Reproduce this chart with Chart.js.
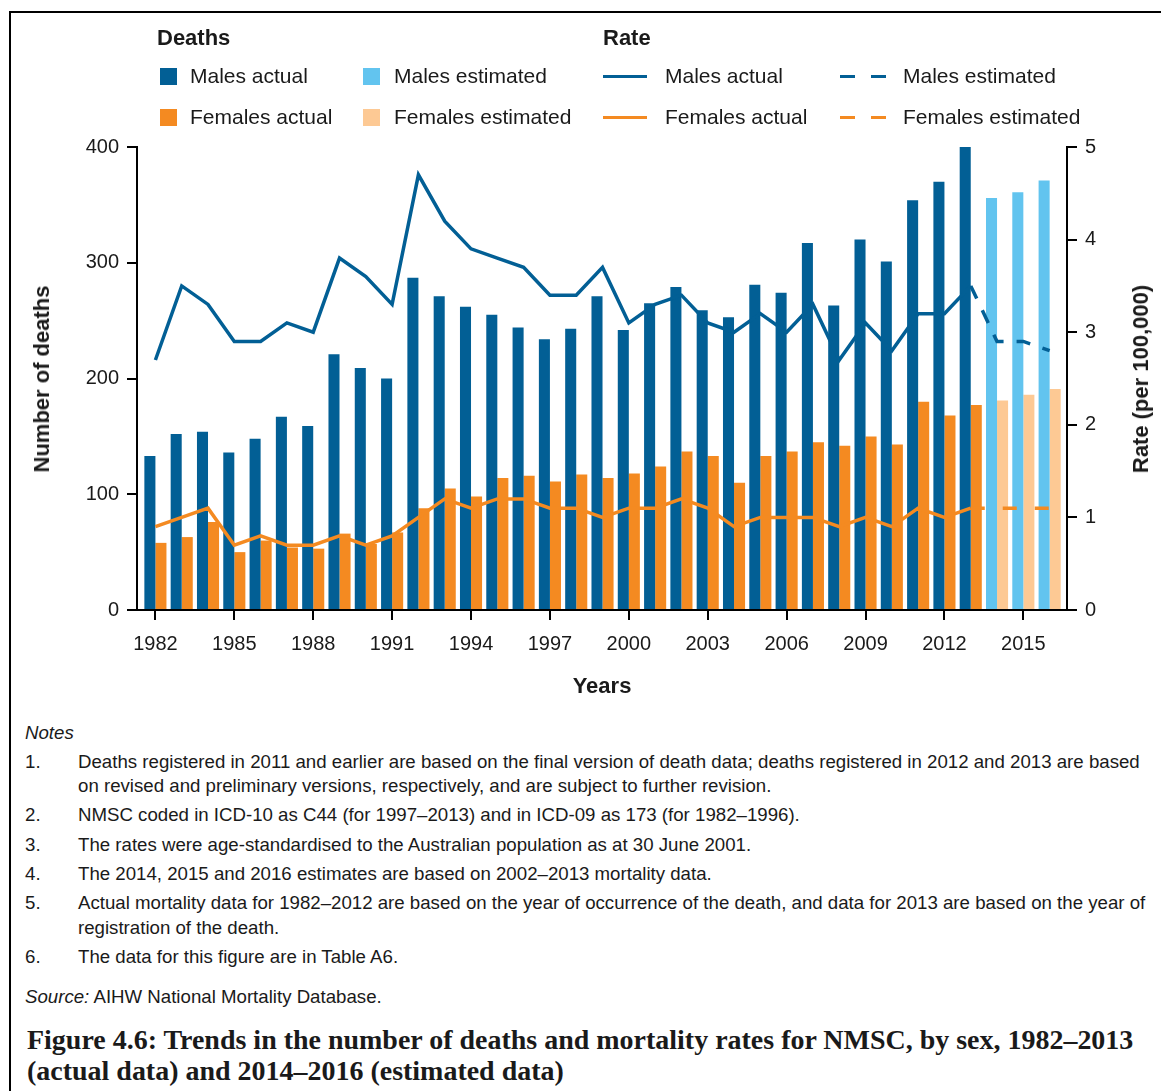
<!DOCTYPE html>
<html>
<head>
<meta charset="utf-8">
<script src="https://cdn.jsdelivr.net/npm/chart.js@4.4.1/dist/chart.umd.min.js"></script>
<style>
  body { margin: 0; width: 1161px; height: 1091px; position: relative; background: #fff; overflow: hidden;
         font-family: "Liberation Sans", Arial, sans-serif; color: #1a1a1a; }
  #frame { position: absolute; left: 9px; top: 11px; width: 1300px; height: 1200px;
           border-left: 2px solid #000; border-top: 2px solid #000; }
  #c { position: absolute; left: 0; top: 0; }
  .t { position: absolute; white-space: nowrap; line-height: 24px; }
  .head { font-weight: bold; font-size: 22px; }
  .lab { font-size: 21px; }
  .sq { position: absolute; width: 17px; height: 17px; }
  .ln { position: absolute; height: 3px; }
  .axt { position: absolute; font-weight: bold; font-size: 22px; white-space: nowrap; transform: translate(-50%, -50%) rotate(-90deg); }
  .note { position: absolute; font-size: 17px; white-space: nowrap; line-height: 20px; }
  .cap { position: absolute; left: 27px; font-family: "Liberation Serif", serif; font-weight: bold; white-space: nowrap; }
</style>
</head>
<body>
<div id="frame"></div>
<canvas id="c" width="1161" height="700"></canvas>

<!-- legend -->
<div class="t head" style="left:157px;top:26px">Deaths</div>
<div class="sq" style="left:160px;top:68px;background:#025F95"></div>
<div class="t lab" style="left:190px;top:64px">Males actual</div>
<div class="sq" style="left:363px;top:68px;background:#62C4EF"></div>
<div class="t lab" style="left:394px;top:64px">Males estimated</div>
<div class="sq" style="left:160px;top:109px;background:#F48A21"></div>
<div class="t lab" style="left:190px;top:105px">Females actual</div>
<div class="sq" style="left:363px;top:109px;background:#FDC994"></div>
<div class="t lab" style="left:394px;top:105px">Females estimated</div>

<div class="t head" style="left:603px;top:26px">Rate</div>
<div class="ln" style="left:603px;top:75px;width:44px;background:#025F95"></div>
<div class="t lab" style="left:665px;top:64px">Males actual</div>
<div class="ln" style="left:840px;top:75px;width:15px;background:#025F95"></div>
<div class="ln" style="left:871px;top:75px;width:15px;background:#025F95"></div>
<div class="t lab" style="left:903px;top:64px">Males estimated</div>
<div class="ln" style="left:603px;top:116px;width:44px;background:#F48A21"></div>
<div class="t lab" style="left:665px;top:105px">Females actual</div>
<div class="ln" style="left:840px;top:116px;width:15px;background:#F48A21"></div>
<div class="ln" style="left:871px;top:116px;width:15px;background:#F48A21"></div>
<div class="t lab" style="left:903px;top:105px">Females estimated</div>

<!-- axis titles -->
<div class="axt" style="left:42px;top:379px">Number of deaths</div>
<div class="axt" style="left:1141px;top:379px">Rate (per 100,000)</div>
<div class="t head" style="left:602px;top:674px;transform:translateX(-50%)">Years</div>

<!-- notes -->
<div class="note" style="left:25px;top:723px;font-style:italic">Notes</div>
<div class="note" style="left:25px;top:752px">1.</div>
<div class="note nt" id="n1" style="left:78px;top:752px">Deaths registered in 2011 and earlier are based on the final version of death data; deaths registered in 2012 and 2013 are based</div>
<div class="note nt" style="left:78px;top:776px">on revised and preliminary versions, respectively, and are subject to further revision.</div>
<div class="note" style="left:25px;top:805px">2.</div>
<div class="note nt" style="left:78px;top:805px">NMSC coded in ICD-10 as C44 (for 1997–2013) and in ICD-09 as 173 (for 1982–1996).</div>
<div class="note" style="left:25px;top:835px">3.</div>
<div class="note nt" style="left:78px;top:835px">The rates were age-standardised to the Australian population as at 30 June 2001.</div>
<div class="note" style="left:25px;top:864px">4.</div>
<div class="note nt" style="left:78px;top:864px">The 2014, 2015 and 2016 estimates are based on 2002–2013 mortality data.</div>
<div class="note" style="left:25px;top:893px">5.</div>
<div class="note nt" style="left:78px;top:893px">Actual mortality data for 1982–2012 are based on the year of occurrence of the death, and data for 2013 are based on the year of</div>
<div class="note nt" style="left:78px;top:918px">registration of the death.</div>
<div class="note" style="left:25px;top:947px">6.</div>
<div class="note nt" style="left:78px;top:947px">The data for this figure are in Table A6.</div>
<div class="note nt" style="left:25px;top:987px"><i>Source:</i> AIHW National Mortality Database.</div>

<div class="cap" id="cap1" style="top:1024px">Figure 4.6: Trends in the number of deaths and mortality rates for NMSC, by sex, 1982–2013</div>
<div class="cap" id="cap2" style="top:1055px">(actual data) and 2014–2016 (estimated data)</div>

<script>
// years shown on the x axis
const years = [1982, 1983, 1984, 1985, 1986, 1987, 1988, 1989, 1990, 1991, 1992, 1993, 1994, 1995, 1996, 1997, 1998,
  1999, 2000, 2001, 2002, 2003, 2004, 2005, 2006, 2007, 2008, 2009, 2010, 2011, 2012, 2013, 2014, 2015, 2016];
const actualYears = years.slice(0, 32);   // 1982-2013
const estYears = [2014, 2015, 2016];
const tickYears = [1982, 1985, 1988, 1991, 1994, 1997, 2000, 2003, 2006, 2009, 2012, 2015];

// number of deaths
const malesActual = [133, 152, 154, 136, 148, 167, 159, 221, 209, 200, 287, 271, 262, 255, 244, 234, 243,
  271, 242, 265, 279, 259, 253, 281, 274, 317, 263, 320, 301, 354, 370, 400];
const femalesActual = [58, 63, 76, 50, 60, 54, 53, 66, 57, 67, 88, 105, 98, 114, 116, 111, 117,
  114, 118, 124, 137, 133, 110, 133, 137, 145, 142, 150, 143, 180, 168, 177];
const malesEstimated = [356, 361, 371];
const femalesEstimated = [181, 186, 191];

// rate per 100,000
const malesRate = [2.7, 3.5, 3.3, 2.9, 2.9, 3.1, 3.0, 3.8, 3.6, 3.3, 4.7, 4.2, 3.9, 3.8, 3.7, 3.4, 3.4,
  3.7, 3.1, 3.3, 3.4, 3.1, 3.0, 3.2, 3.0, 3.3, 2.7, 3.1, 2.8, 3.2, 3.2, 3.5];
const femalesRate = [0.9, 1.0, 1.1, 0.7, 0.8, 0.7, 0.7, 0.8, 0.7, 0.8, 1.0, 1.2, 1.1, 1.2, 1.2, 1.1, 1.1,
  1.0, 1.1, 1.1, 1.2, 1.1, 0.9, 1.0, 1.0, 1.0, 0.9, 1.0, 0.9, 1.1, 1.0, 1.1];
const malesRateEst = [2.9, 2.9, 2.8];
const femalesRateEst = [1.1, 1.1, 1.1];

const leftTicks = [0, 100, 200, 300, 400];
const rightTicks = [0, 1, 2, 3, 4, 5];

const pts = (xs, ys) => xs.map((x, i) => ({ x: x, y: ys[i] }));
// dashed estimate lines start from the last actual point
const last = actualYears.length - 1;
const estLine = (act, est) => pts([actualYears[last]].concat(estYears), [act[last]].concat(est));

const DARK = '#025F95', LIGHT = '#62C4EF', ORANGE = '#F48A21', PEACH = '#FDC994';
const tickFont = { family: 'Liberation Sans', size: 20 };

// fit caption and note fonts to the widths in the figure
function fitFont(el, family, weight, target) {
  const ctx = document.createElement('canvas').getContext('2d');
  ctx.font = weight + ' 100px ' + family;
  return target / ctx.measureText(el.textContent).width * 100;
}
const capSize = fitFont(document.getElementById('cap1'), '"Liberation Serif"', 'bold', 1108);
document.getElementById('cap1').style.fontSize = capSize + 'px';
document.getElementById('cap2').style.fontSize = capSize + 'px';
const noteSize = fitFont(document.getElementById('n1'), '"Liberation Sans"', 'normal', 1063);
document.querySelectorAll('.note').forEach(n => n.style.fontSize = noteSize + 'px');

new Chart(document.getElementById('c'), {
  data: {
    datasets: [
      { type: 'line', label: 'Males actual rate', yAxisID: 'y1', order: 0, data: pts(actualYears, malesRate),
        borderColor: DARK, borderWidth: 3.5, pointRadius: 0, tension: 0 },
      { type: 'line', label: 'Females actual rate', yAxisID: 'y1', order: 0, data: pts(actualYears, femalesRate),
        borderColor: ORANGE, borderWidth: 3.5, pointRadius: 0, tension: 0 },
      { type: 'line', label: 'Males estimated rate', yAxisID: 'y1', order: 0, data: estLine(malesRate, malesRateEst),
        borderColor: DARK, borderWidth: 3.5, borderDash: [14, 13], pointRadius: 0, tension: 0 },
      { type: 'line', label: 'Females estimated rate', yAxisID: 'y1', order: 0, data: estLine(femalesRate, femalesRateEst),
        borderColor: ORANGE, borderWidth: 3.5, borderDash: [14, 18], pointRadius: 0, tension: 0 },
      { type: 'bar', label: 'Males actual', stack: 'm', order: 1, data: pts(actualYears, malesActual), backgroundColor: DARK },
      { type: 'bar', label: 'Females actual', stack: 'f', order: 1, data: pts(actualYears, femalesActual), backgroundColor: ORANGE },
      { type: 'bar', label: 'Males estimated', stack: 'm', order: 1, data: pts(estYears, malesEstimated), backgroundColor: LIGHT },
      { type: 'bar', label: 'Females estimated', stack: 'f', order: 1, data: pts(estYears, femalesEstimated), backgroundColor: PEACH }
    ]
  },
  options: {
    responsive: false,
    animation: false,
    layout: { padding: { top: 147, left: 0, right: 0, bottom: 0 } },
    datasets: { bar: { categoryPercentage: 0.84, barPercentage: 1.0, borderWidth: 0 } },
    plugins: { legend: { display: false }, tooltip: { enabled: false } },
    scales: {
      x: {
        type: 'linear', min: 1981.3, max: 2016.66, offset: false,
        afterBuildTicks: s => { s.ticks = tickYears.map(v => ({ value: v })); },
        afterFit: s => { s.height = 90; },
        border: { display: true, color: '#000', width: 2 },
        grid: { drawOnChartArea: false, drawTicks: true, tickLength: 10, color: '#000', lineWidth: 2, offset: false },
        ticks: { color: '#1a1a1a', font: tickFont, padding: 12, maxRotation: 0, autoSkip: false, callback: v => String(v) }
      },
      y: {
        position: 'left', min: 0, max: 400,
        afterBuildTicks: s => { s.ticks = leftTicks.map(v => ({ value: v })); },
        afterFit: s => { s.width = 137; },
        border: { display: true, color: '#000', width: 2 },
        grid: { drawOnChartArea: false, drawTicks: true, tickLength: 10, color: '#000', lineWidth: 2 },
        ticks: { color: '#1a1a1a', font: tickFont, padding: 8 }
      },
      y1: {
        position: 'right', min: 0, max: 5,
        afterBuildTicks: s => { s.ticks = rightTicks.map(v => ({ value: v })); },
        afterFit: s => { s.width = 94; },
        border: { display: true, color: '#000', width: 2 },
        grid: { drawOnChartArea: false, drawTicks: true, tickLength: 10, color: '#000', lineWidth: 2 },
        ticks: { color: '#1a1a1a', font: tickFont, padding: 8 }
      }
    }
  }
});
</script>
</body>
</html>
